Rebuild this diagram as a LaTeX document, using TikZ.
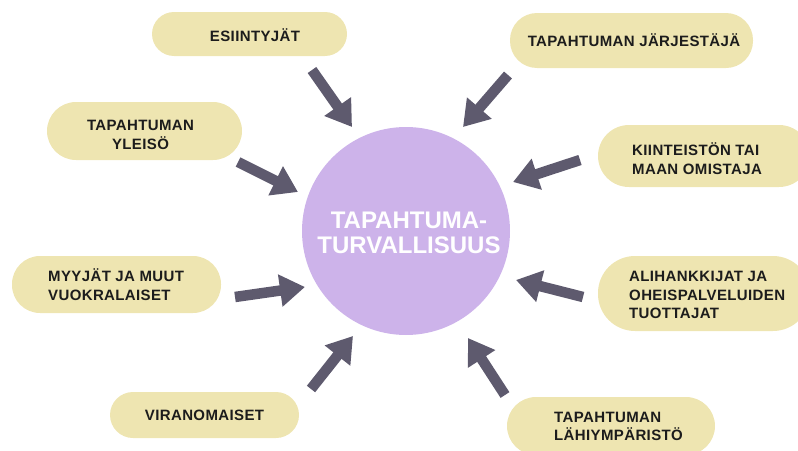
\documentclass[tikz,border=0pt]{standalone}
\usepackage{fontspec}
\setmainfont{Liberation Sans}
\newfontfamily\pillfont[LetterSpace=2.5]{Liberation Sans}
\usetikzlibrary{arrows.meta}
\definecolor{pillfill}{RGB}{238,229,177}
\definecolor{hubfill}{RGB}{205,179,234}
\definecolor{arrowcol}{RGB}{94,90,110}
\definecolor{txtcol}{RGB}{28,28,28}
\tikzset{
  pill/.style={draw=none, fill=pillfill, inner sep=0pt},
  pilltext/.style={inner sep=0pt, text=txtcol, font=\pillfont\bfseries\fontsize{15}{18.5}\selectfont},
  blockarrow/.style={draw=arrowcol, line width=10.5pt, -{Triangle[width=31pt,length=25pt]}, arrowcol},
}
\begin{document}
\begin{tikzpicture}[x=1pt,y=-1pt]
\useasboundingbox (0,0) rectangle (798,450);
% hub
\node[circle, fill=hubfill, minimum size=208pt, inner sep=0pt] (hub) at (406,231) {};
\node[text=white, align=center, inner sep=0pt, font=\bfseries\fontsize{24}{24.5}\selectfont] (hubtext) at (409,233) {TAPAHTUMA-\\TURVALLISUUS};
% pills
\path[pill, rounded corners=22pt] (152,12) rectangle (347,56); \coordinate (p1) at (249,34);
\path[pill, rounded corners=29pt] (47,102) rectangle (242,160); \coordinate (p2) at (144,131);
\path[pill, rounded corners=27pt] (510,13) rectangle (753,68); \coordinate (p3) at (631,41);
\path[pill, rounded corners=31pt] (598,125) rectangle (810,187); \coordinate (p4) at (704,156);
\path[pill, rounded corners=28pt] (12,256) rectangle (221,313); \coordinate (p5) at (116,285);
\path[pill, rounded corners=23pt] (110,392) rectangle (299,438); \coordinate (p6) at (205,415);
\path[pill, rounded corners=37pt] (598,256) rectangle (810,331); \coordinate (p7) at (704,294);
\path[pill, rounded corners=29pt] (507,397) rectangle (715,455); \coordinate (p8) at (611,426);
% texts
\node[pilltext] (t1) at (255,35) {ESIINTYJÄT};
\node[pilltext, align=center] (t2) at (140.5,135) {TAPAHTUMAN\\YLEISÖ};
\node[pilltext] (t3) at (634,40.5) {TAPAHTUMAN JÄRJESTÄJÄ};
\node[pilltext, align=left, anchor=west] (t4) at (632,158.5) {KIINTEISTÖN TAI\\MAAN OMISTAJA};
\node[pilltext, align=left, anchor=west] (t5) at (48,284.5) {MYYJÄT JA MUUT\\VUOKRALAISET};
\node[pilltext] (t6) at (204.5,415.5) {VIRANOMAISET};
\node[pilltext, align=left, anchor=west] (t7) at (629,295) {ALIHANKKIJAT JA\\OHEISPALVELUIDEN\\TUOTTAJAT};
\node[pilltext, align=left, anchor=west] (t8) at (554,426.5) {TAPAHTUMAN\\LÄHIYMPÄRISTÖ};
% arrows
\coordinate (a1s) at (312,70);  \coordinate (a1e) at (352,127);
\coordinate (a2s) at (238,162); \coordinate (a2e) at (298,192);
\coordinate (a3s) at (508,75);  \coordinate (a3e) at (463,127);
\coordinate (a4s) at (580,160); \coordinate (a4e) at (513,182);
\coordinate (a5s) at (235,297); \coordinate (a5e) at (305,287);
\coordinate (a6s) at (311,389); \coordinate (a6e) at (353,336);
\coordinate (a7s) at (583,297); \coordinate (a7e) at (516,280);
\coordinate (a8s) at (505,395); \coordinate (a8e) at (468,338);
\foreach \i in {1,...,8} { \draw[blockarrow] (a\i s) -- (a\i e); }
\end{tikzpicture}
\end{document}
